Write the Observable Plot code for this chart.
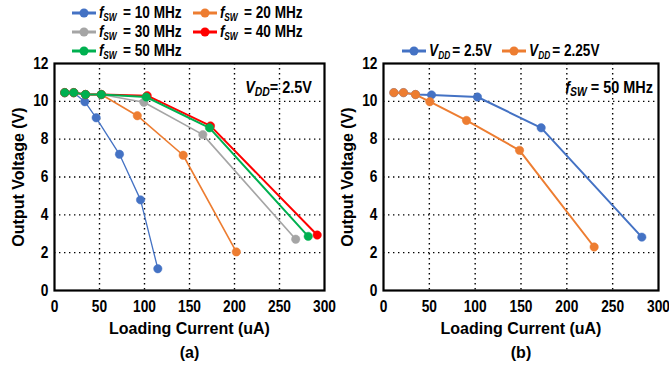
<!DOCTYPE html>
<html><head><meta charset="utf-8">
<script src="https://cdn.jsdelivr.net/npm/d3@7"></script>
<script src="https://cdn.jsdelivr.net/npm/@observablehq/plot@0.6"></script>
<style>
body{margin:0;background:#fff;}
#wrap{position:relative;width:669px;height:367px;overflow:hidden;background:#fff;font-family:"Liberation Sans",Arial,sans-serif;font-weight:bold;color:#000}
.panel{position:absolute;top:55px}
.item{position:absolute;display:flex;align-items:center;font-size:16px;white-space:nowrap;line-height:1}
.item svg{margin-right:3px;flex:none}
.item span{display:inline-block;transform:scaleX(0.85);transform-origin:0 50%}
.sub{font-size:0.72em;position:relative;top:0.22em;font-style:italic}
.note{position:absolute;font-size:17px;white-space:nowrap;line-height:1;transform:translate(-100%,-50%) scaleX(0.85);transform-origin:100% 50%}
</style></head>
<body><div id="wrap"></div>
<script>
// ---- shared ticks ----
const xTicks = [0, 50, 100, 150, 200, 250, 300];
const yTicks = [0, 2, 4, 6, 8, 10, 12];

// ---- panel (a): fSW sweep at VDD = 2.5 V ----
const seriesA = ["10 MHz", "20 MHz", "30 MHz", "40 MHz", "50 MHz"];
const colorsA = ["#4472C4", "#ED7D31", "#A5A5A5", "#FF0000", "#00B050"];
const iA10 = [11.4, 21.4, 33.7, 46.3, 72.2, 95.6, 114.8];
const vA10 = [10.46, 10.46, 9.98, 9.13, 7.2, 4.79, 1.15];
const iA20 = [11.4, 21.4, 34.4, 52, 92, 143, 202];
const vA20 = [10.46, 10.46, 10.36, 10.36, 9.24, 7.15, 2.04];
const iA30 = [11.4, 21.4, 34.4, 52, 99.3, 164.8, 268];
const vA30 = [10.46, 10.46, 10.36, 10.36, 9.95, 8.24, 2.71];
const iA40 = [11.4, 21.4, 34.4, 52, 103, 173.3, 291.9];
const vA40 = [10.46, 10.46, 10.36, 10.36, 10.3, 8.7, 2.93];
const iA50 = [11.4, 21.4, 34.4, 52, 101.9, 172.2, 281.9];
const vA50 = [10.46, 10.46, 10.36, 10.36, 10.23, 8.6, 2.86];

// ---- panel (b): VDD sweep at fSW = 50 MHz ----
const seriesB = ["2.5V", "2.25V"];
const colorsB = ["#4472C4", "#ED7D31"];
const iB25 = [11.3, 21.8, 34.9, 52.4, 102.5, 172, 281.8];
const vB25 = [10.46, 10.46, 10.36, 10.34, 10.23, 8.6, 2.82];
const iB225 = [11.3, 21.8, 34.9, 50.5, 90.5, 148.4, 229.8];
const vB225 = [10.46, 10.46, 10.36, 9.98, 8.99, 7.41, 2.3];

const xLabel = "Loading Current (uA)";
const yLabel = "Output Voltage (V)";

function rows(xs, ys) { return xs.map((x, i) => ({x, y: ys[i]})); }

const seriesDataA = [rows(iA10, vA10), rows(iA20, vA20), rows(iA30, vA30), rows(iA40, vA40), rows(iA50, vA50)];
const seriesDataB = [rows(iB25, vB25), rows(iB225, vB225)];
const widthsA = [1.3, 1.6, 1.6, 2, 2];
const widthsB = [2, 2];

const font = "Liberation Sans, Arial, sans-serif";

function makePlot(width, marginLeft, marginRight, data, colors, widths, caption) {
  const marks = [
    Plot.gridX(xTicks.slice(1, -1), {stroke: "#000", strokeOpacity: 1, strokeWidth: 1.4, strokeDasharray: "1.4,3.6"}),
    Plot.gridY(yTicks.slice(1, -1), {stroke: "#000", strokeOpacity: 1, strokeWidth: 1.4, strokeDasharray: "1.4,3.6"}),
    Plot.frame({stroke: "#000", strokeWidth: 2.2})
  ];
  data.forEach((d, k) => {
    marks.push(Plot.line(d, {x: "x", y: "y", stroke: colors[k], strokeWidth: widths[k]}));
    marks.push(Plot.dot(d, {x: "x", y: "y", fill: colors[k], stroke: colors[k], strokeWidth: 0.5, r: 4.2}));
  });
  marks.push(
    Plot.axisX(xTicks, {tickSize: 0, tickPadding: 10, fontSize: 16, fontWeight: "bold", fontFamily: font, label: null}),
    Plot.axisY(yTicks, {tickSize: 0, tickPadding: 6, fontSize: 16, fontWeight: "bold", fontFamily: font, label: null}),
    Plot.text([xLabel], {text: d => d, frameAnchor: "bottom", lineAnchor: "middle", textAnchor: "middle", dy: 38, fontSize: 16, fontWeight: "bold", fontFamily: font, fill: "#000"}),
    Plot.text([caption], {text: d => d, frameAnchor: "bottom", lineAnchor: "middle", textAnchor: "middle", dy: 62, fontSize: 16, fontWeight: "bold", fontFamily: font, fill: "#000"}),
    Plot.text([yLabel], {text: d => d, frameAnchor: "left", lineAnchor: "middle", textAnchor: "middle", dx: -36, rotate: -90, fontSize: 16, fontWeight: "bold", fontFamily: font, fill: "#000"})
  );
  const svg = Plot.plot({
    width, height: 312,
    marginTop: 8, marginBottom: 77, marginLeft, marginRight,
    style: {background: "transparent", color: "#000", overflow: "visible"},
    x: {domain: [0, 300]},
    y: {domain: [0, 12]},
    marks
  });
  // condense tick labels horizontally (narrow bold look of the original)
  d3.select(svg).selectAll('g[aria-label="x-axis tick label"] text, g[aria-label="y-axis tick label"] text').each(function() {
    const t = d3.select(this);
    const tr = t.attr("transform") || "";
    t.attr("transform", `${tr} scale(0.86,1)`);
  });
  return svg;
}

const wrap = document.getElementById("wrap");

const pA = document.createElement("div");
pA.className = "panel"; pA.style.left = "0px";
pA.appendChild(makePlot(335, 54, 11, seriesDataA, colorsA, widthsA, "(a)"));
wrap.appendChild(pA);

const pB = document.createElement("div");
pB.className = "panel"; pB.style.left = "330px";
pB.appendChild(makePlot(339, 53, 11, seriesDataB, colorsB, widthsB, "(b)"));
wrap.appendChild(pB);

// ---- legends ----
function swatch(color) {
  return `<svg width="24" height="12"><line x1="0" x2="24" y1="6" y2="6" stroke="${color}" stroke-width="3"/><circle cx="12" cy="6" r="4.5" fill="${color}"/></svg>`;
}
function addItem(left, top, color, html) {
  const el = document.createElement("div");
  el.className = "item";
  el.style.left = left + "px";
  el.style.top = (top - 7) + "px";
  el.innerHTML = swatch(color) + `<span>${html}</span>`;
  wrap.appendChild(el);
}
const fsw = `<i>f</i><span class="sub">SW</span>`;
const vdd = `<i>V</i><span class="sub">DD</span>`;
const legPosA = [[72, 12], [193, 12], [72, 31], [193, 31], [72, 50]];
seriesA.forEach((s, k) => addItem(legPosA[k][0], legPosA[k][1], colorsA[k], `${fsw} = ${s}`));
const legPosB = [[402, 50], [502, 50]];
seriesB.forEach((s, k) => addItem(legPosB[k][0], legPosB[k][1], colorsB[k], `${vdd}= ${s}`));

// ---- in-plot notes ----
function addNote(right, cy, html) {
  const el = document.createElement("div");
  el.className = "note";
  el.style.left = right + "px";
  el.style.top = cy + "px";
  el.innerHTML = html;
  wrap.appendChild(el);
}
addNote(312, 87, `${vdd}= 2.5V`);
addNote(653, 87, `${fsw} = 50 MHz`);
</script>
</body></html>
